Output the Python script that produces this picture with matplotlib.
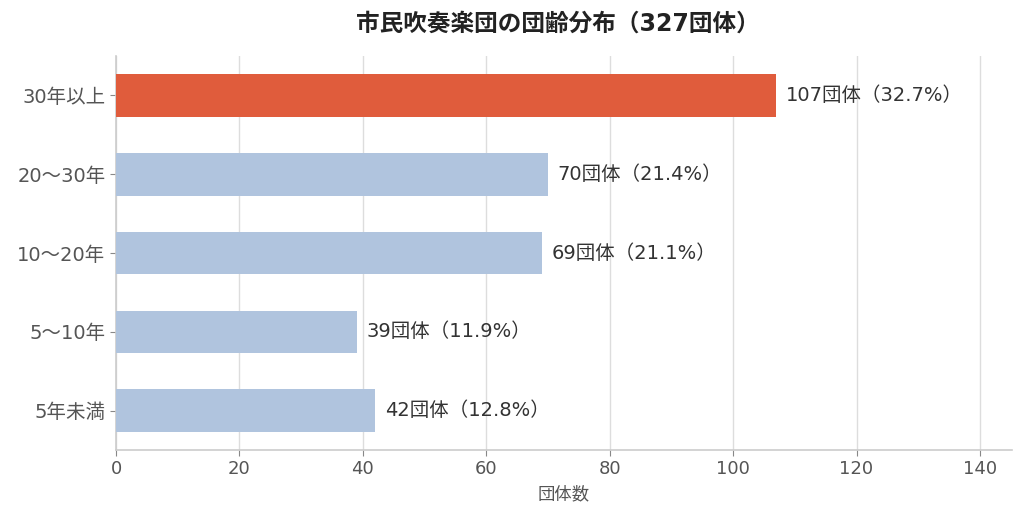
import matplotlib
matplotlib.use("Agg")
import matplotlib.pyplot as plt

categories = ["5年未満", "5〜10年", "10〜20年", "20〜30年", "30年以上"]
counts = [42, 39, 69, 70, 107]
percents = [12.8, 11.9, 21.1, 21.4, 32.7]
highlight = "30年以上"
xticks = [0, 20, 40, 60, 80, 100, 120, 140]

plt.rcParams['font.family'] = ['DejaVu Sans', 'Noto Sans CJK JP']

fig = plt.figure(figsize=(10.24, 5.19), dpi=100)
ax = fig.add_axes([0.1133, 0.133, 0.875, 0.759])

colors = ["#E05C3C" if c == highlight else "#B0C4DE" for c in categories]
ypos = list(range(len(categories)))
bars = ax.barh(ypos, counts, height=0.54, color=colors, zorder=3)

for y, v, p in zip(ypos, counts, percents):
    ax.annotate(f"{v}団体（{p}%）", xy=(v, y), xytext=(7, 0), textcoords="offset points",
                va="center", ha="left", fontsize=14, color="#333333")

ax.set_yticks(ypos)
ax.set_yticklabels(categories)
ax.set_xticks(xticks)
ax.set_xlim(0, 145.2)
ax.set_ylim(-0.5, 4.5)
ax.grid(axis="x", color="#DDDDDD", linewidth=1, zorder=0)
ax.set_axisbelow(True)
for s in ["top", "right"]:
    ax.spines[s].set_visible(False)
for s in ["left", "bottom"]:
    ax.spines[s].set_color("#CCCCCC")
    ax.spines[s].set_linewidth(1.2)
ax.tick_params(axis="both", colors="#888888", labelcolor="#555555", length=4)
ax.tick_params(axis="x", labelsize=13)
ax.tick_params(axis="y", labelsize=14)
ax.set_xlabel("団体数", fontsize=12.5, color="#555555", labelpad=5)
fig.suptitle("市民吹奏楽団の団齢分布（327団体）", x=0.545, y=0.978, fontsize=17,
             fontweight="bold", color="#222222")

fig.savefig("out.png", dpi=100)
